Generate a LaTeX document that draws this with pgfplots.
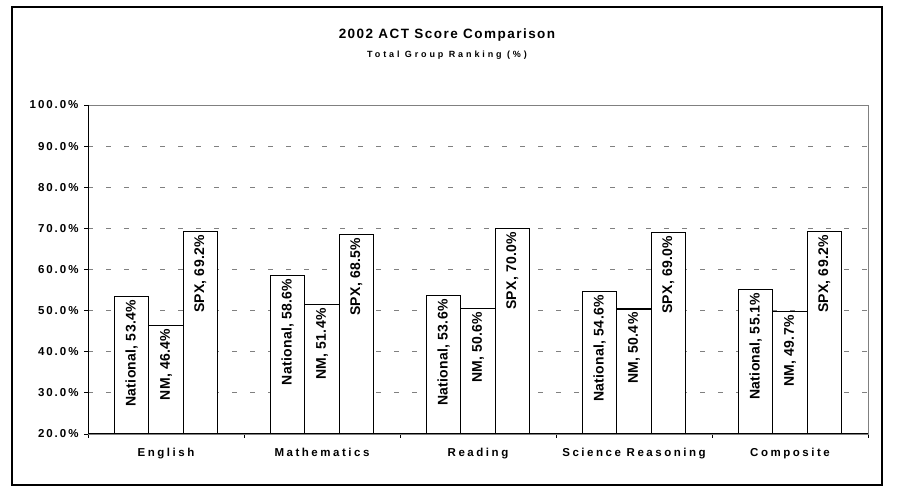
\documentclass[border=0pt]{standalone}
\usepackage{fontspec}
\setmainfont{Liberation Sans}
\usepackage{pgfplots}
\pgfplotsset{compat=1.18}
\newfontfamily\tickfont[LetterSpace=17]{Liberation Sans Bold}
\newfontfamily\xfont[LetterSpace=22]{Liberation Sans Bold}
\newfontfamily\barfont[LetterSpace=2]{Liberation Sans Bold}
\newfontfamily\titfont[LetterSpace=11]{Liberation Sans Bold}
\newfontfamily\subfont[LetterSpace=32]{Liberation Sans Bold}
\definecolor{gridgray}{RGB}{128,128,128}
\begin{document}
\begin{tikzpicture}[x=1bp,y=1bp]
\path (0,0) rectangle (909,500);
\draw[line width=1.5bp] (12,15) rectangle (882,493);
\node[anchor=base,inner sep=0pt,font=\titfont\fontsize{13.5bp}{15bp}\selectfont] at (447,461) {2002 ACT Score Comparison};
\node[anchor=base,inner sep=0pt,font=\subfont\fontsize{9bp}{10bp}\selectfont] at (447,442) {Total Group Ranking (\%)};
\begin{axis}[
  at={(88bp,66bp)}, anchor=south west,
  width=780bp, height=329bp, scale only axis,
  xmin=-0.5, xmax=4.5, ymin=20, ymax=100,
  ybar=0pt, bar width=0.22,
  /pgf/number format/assume math mode=true,
  ytick={20,30,...,100},
  yticklabel={\pgfmathprintnumber[fixed,fixed zerofill,precision=1]{\tick}\%},
  yticklabel style={font=\tickfont\fontsize{11.5bp}{13bp}\selectfont, xshift=-2bp},
  xtick={0,1,2,3,4},
  xticklabels={English,Mathematics,Reading,Science Reasoning,Composite},
  xticklabel style={font=\xfont\fontsize{11.5bp}{13bp}\selectfont, yshift=-7bp},
  minor xtick={-0.5,0.5,...,4.5},
  tick pos=left, tick align=outside,
  major tick length=4bp, minor tick length=4bp,
  major x tick style={draw=none},
  minor x tick style={black, line width=0.8bp},
  major y tick style={black, line width=0.8bp},
  ymajorgrids,
  major grid style={gridgray, line width=0.8bp, dash pattern=on 5bp off 13bp},
  axis line style={gridgray, line width=0.9bp},
  every node near coord/.append style={rotate=90, anchor=east, inner sep=3bp, black,
     font=\barfont\fontsize{14bp}{16bp}\selectfont},
  every axis plot/.append style={draw=black, fill=white, line width=1.1bp},
]
\addplot[nodes near coords={National, \pgfmathprintnumber[fixed,fixed zerofill,precision=1]{\pgfplotspointmeta}\%}]
  coordinates {(0,53.4) (1,58.6) (2,53.6) (3,54.6) (4,55.1)};
\addplot[nodes near coords={NM, \pgfmathprintnumber[fixed,fixed zerofill,precision=1]{\pgfplotspointmeta}\%}]
  coordinates {(0,46.4) (1,51.4) (2,50.6) (3,50.4) (4,49.7)};
\addplot[nodes near coords={SPX, \pgfmathprintnumber[fixed,fixed zerofill,precision=1]{\pgfplotspointmeta}\%}]
  coordinates {(0,69.2) (1,68.5) (2,70.0) (3,69.0) (4,69.2)};
\draw[black, line width=1.2bp] (rel axis cs:0,1) -- (rel axis cs:0,0) -- (rel axis cs:1,0);
\end{axis}
\end{tikzpicture}
\end{document}
